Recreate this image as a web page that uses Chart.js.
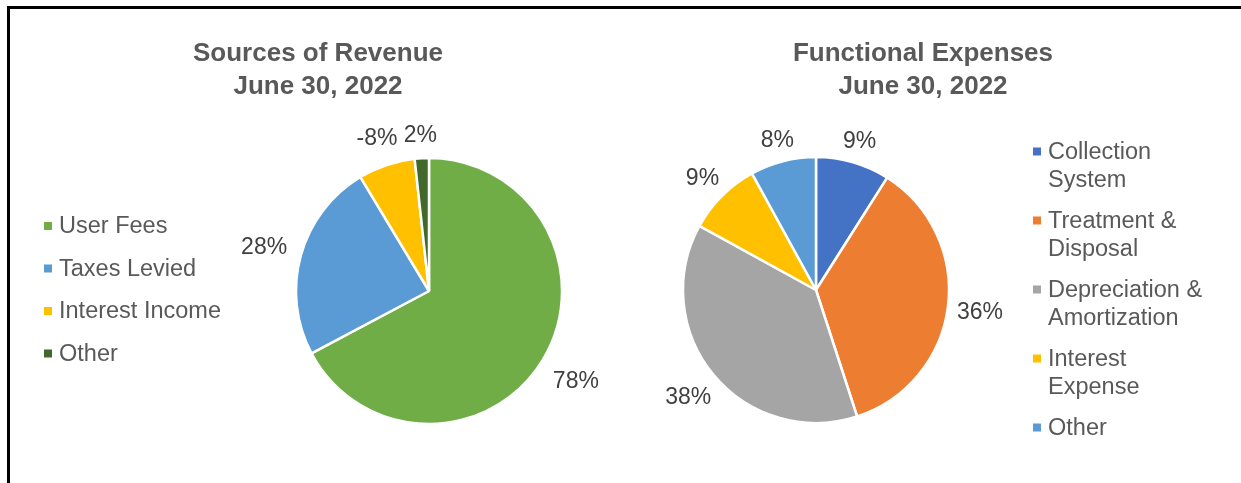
<!DOCTYPE html>
<html>
<head>
<meta charset="utf-8">
<title>Revenue and Expenses</title>
<script src="https://cdn.jsdelivr.net/npm/chart.js@4.4.0/dist/chart.umd.min.js"></script>
<style>
    body { margin: 0; background: #fff; width: 1241px; height: 483px; overflow: hidden; position: relative; }
    #frame { position: absolute; left: 7px; top: 6px; right: -10px; bottom: -10px; border-top: 3px solid #000; border-left: 3px solid #000; }
    canvas { position: absolute; top: 10px; }
    #revenueChart { left: 10px; }
    #expenseChart { left: 622px; }
</style>
</head>
<body>
<div id="frame"></div>
<canvas id="revenueChart" width="612" height="473"></canvas>
<canvas id="expenseChart" width="619" height="473"></canvas>
<script>
// Sources of revenue (percent of total, interest income was a loss)
var revenueTitle = ["Sources of Revenue", "June 30, 2022"];
var revenueLabels = ["User Fees", "Taxes Levied", "Interest Income", "Other"];
var revenueValues = [78, 28, -8, 2];
var revenueColors = ["#70AD47", "#5B9BD5", "#FFC000", "#43682B"];

// Functional expenses (percent of total)
var expenseTitle = ["Functional Expenses", "June 30, 2022"];
var expenseLabels = ["Collection System", "Treatment & Disposal", "Depreciation & Amortization", "Interest Expense", "Other"];
var expenseValues = [9, 36, 38, 9, 8];
var expenseColors = ["#4472C4", "#ED7D31", "#A5A5A5", "#FFC000", "#5B9BD5"];

var FONT = "'Liberation Sans', Arial, sans-serif";

function wrapText(ctx, text, maxWidth) {
    var words = text.split(" ");
    var lines = [];
    var line = "";
    for (var i = 0; i < words.length; i++) {
        var test = line ? line + " " + words[i] : words[i];
        if (line && ctx.measureText(test).width > maxWidth) {
            lines.push(line);
            line = words[i];
        } else {
            line = test;
        }
    }
    if (line) lines.push(line);
    return lines;
}

// title, legend and outside percent labels, drawn like the excel chart
var decorPlugin = {
    id: "decor",
    afterDraw: function (chart, args, opts) {
        var ctx = chart.ctx;
        ctx.save();

        // title
        ctx.font = "bold 26px " + FONT;
        ctx.fillStyle = "#595959";
        ctx.textAlign = "center";
        ctx.textBaseline = "middle";
        for (var t = 0; t < opts.title.length; t++) {
            ctx.fillText(opts.title[t], opts.titleX, opts.titleY + t * 33);
        }

        // legend
        ctx.font = "23.5px " + FONT;
        ctx.textAlign = "left";
        var labels = chart.data.labels;
        var colors = chart.data.datasets[0].backgroundColor;
        var y = opts.legendY;
        for (var i = 0; i < labels.length; i++) {
            var lines = opts.legendWrap ? wrapText(ctx, labels[i], opts.legendWrap) : [labels[i]];
            ctx.fillStyle = colors[i];
            ctx.fillRect(opts.legendX, y - 4, 8, 8);
            ctx.fillStyle = "#595959";
            for (var l = 0; l < lines.length; l++) {
                ctx.fillText(lines[l], opts.legendX + 15, y + 1 + l * 28.5);
            }
            y += opts.legendStep ? opts.legendStep : lines.length * 28.5 + 12;
        }

        // percent labels outside of each slice
        ctx.font = "23px " + FONT;
        ctx.fillStyle = "#404040";
        ctx.textAlign = "center";
        var meta = chart.getDatasetMeta(0);
        var values = chart.data.datasets[0].data;
        meta.data.forEach(function (arc, k) {
            var mid = (arc.startAngle + arc.endAngle) / 2;
            var dx = Math.cos(mid);
            var dy = Math.sin(mid);
            var text = values[k] + "%";
            var w = ctx.measureText(text).width;
            var dist = arc.outerRadius + opts.labelGap + Math.abs(dx) * w / 2 + Math.abs(dy) * 11;
            ctx.fillText(text, arc.x + dx * dist, arc.y + dy * dist + 2);
        });

        ctx.restore();
    }
};

function makePie(id, labels, values, colors, padding, decor) {
    var ctx = document.getElementById(id).getContext("2d");
    return new Chart(ctx, {
        type: "pie",
        data: {
            labels: labels,
            datasets: [{
                data: values,
                backgroundColor: colors,
                borderColor: "#ffffff",
                borderWidth: 2.5,
                hoverOffset: 0
            }]
        },
        options: {
            responsive: false,
            animation: false,
            events: [],
            radius: 133,
            layout: { padding: padding },
            plugins: {
                legend: { display: false },
                title: { display: false },
                tooltip: { enabled: false },
                decor: decor
            }
        },
        plugins: [decorPlugin]
    });
}

makePie("revenueChart", revenueLabels, revenueValues, revenueColors,
    { left: 226, right: 0, top: 148, bottom: 59 },
    { title: revenueTitle, titleX: 308, titleY: 44, legendX: 34, legendY: 216, legendStep: 42.5, labelGap: 13 });

makePie("expenseChart", expenseLabels, expenseValues, expenseColors,
    { left: 0, right: 231, top: 147, bottom: 60 },
    { title: expenseTitle, titleX: 301, titleY: 44, legendX: 411, legendY: 141.5, legendWrap: 165, labelGap: 8 });
</script>
</body>
</html>
